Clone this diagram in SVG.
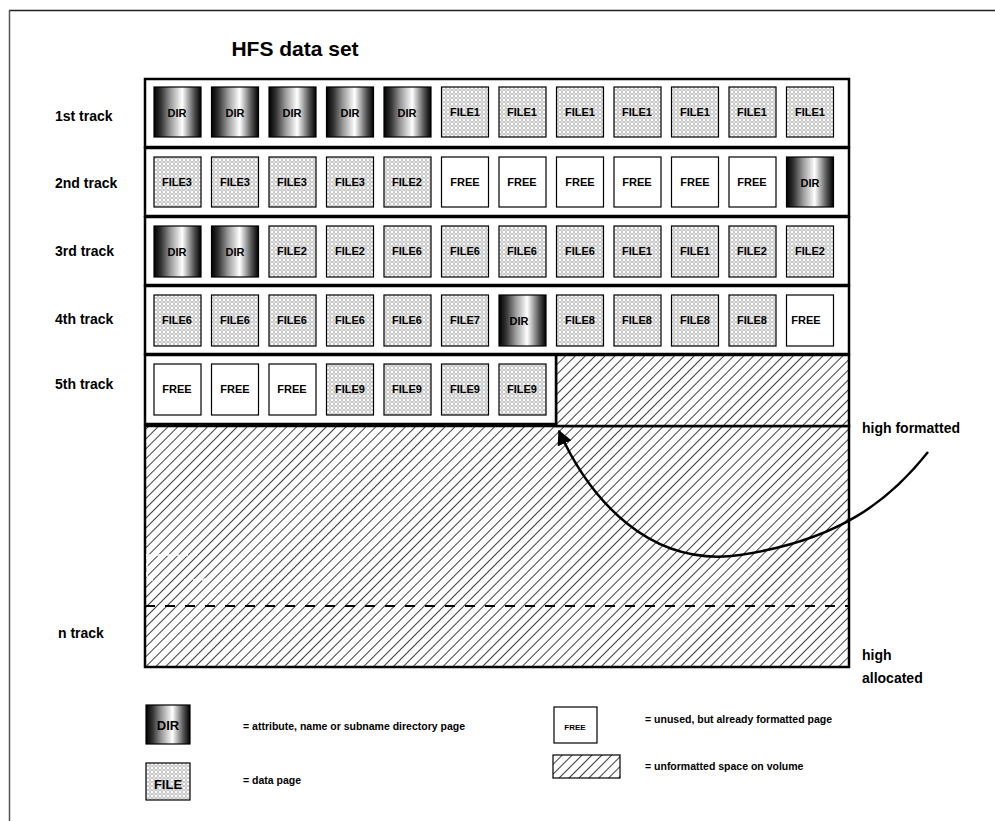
<svg xmlns="http://www.w3.org/2000/svg" width="995" height="821" viewBox="0 0 995 821">
<defs>
<linearGradient id="dirg" x1="0" y1="0" x2="1" y2="0">
<stop offset="0" stop-color="#000"/>
<stop offset="0.15" stop-color="#333"/>
<stop offset="0.35" stop-color="#999"/>
<stop offset="0.6" stop-color="#fff"/>
<stop offset="0.85" stop-color="#555"/>
<stop offset="1" stop-color="#000"/>
</linearGradient>
<pattern id="dots" width="4" height="4" patternUnits="userSpaceOnUse">
<rect width="4" height="4" fill="#fff"/>
<circle cx="2" cy="2" r="1.4" fill="none" stroke="#999" stroke-width="0.7"/>
</pattern>
<pattern id="hatch" width="7" height="7" patternUnits="userSpaceOnUse" patternTransform="rotate(45)">
<rect width="7" height="7" fill="#fff"/>
<line x1="0" y1="0" x2="0" y2="7" stroke="#000" stroke-width="1.5"/>
</pattern>
<marker id="ah" viewBox="0 0 10 10" refX="9" refY="5" markerWidth="6" markerHeight="6" orient="auto" markerUnits="strokeWidth">
<path d="M0,0 L10,5 L0,10 z" fill="#000"/>
</marker>
</defs>
<style>
text{font-family:"Liberation Sans Narrow","Liberation Sans",Arial,sans-serif;font-weight:bold;fill:#000}
.lbl{font-size:14px}
.c{font-size:11px;text-anchor:middle}
.dir{fill:url(#dirg);stroke:#000;stroke-width:1.2}
.file{fill:url(#dots);stroke:#000;stroke-width:1.2}
.free{fill:#fff;stroke:#000;stroke-width:1.2}
.row{fill:#fff;stroke:#000;stroke-width:2.5}
.hat{fill:url(#hatch);stroke:#000;stroke-width:2.5}
.leg{font-size:10.5px}
</style>
<rect width="995" height="821" fill="#fff"/>
<g id="frame">
<line x1="9" y1="10.5" x2="995" y2="10.5" stroke="#222" stroke-width="1.5"/>
<line x1="9.5" y1="10" x2="9.5" y2="821" stroke="#555" stroke-width="1.5"/>
</g>
<text x="295" y="56" style="font-size:21px" text-anchor="middle" id="title">HFS data set</text>
<g id="labels">
<text class="lbl" x="55" y="121">1st track</text>
<text class="lbl" x="55" y="188">2nd track</text>
<text class="lbl" x="55" y="256">3rd track</text>
<text class="lbl" x="55" y="324">4th track</text>
<text class="lbl" x="55" y="389">5th track</text>
<text class="lbl" x="58" y="638">n track</text>
</g>
<g id="unformatted">
<rect class="hat" x="145" y="426" width="704" height="241"/>
<rect class="hat" x="556" y="355" width="293" height="71"/>
<line x1="145" y1="606" x2="849" y2="606" stroke="#000" stroke-width="2" stroke-dasharray="10,10"/>
<rect x="147" y="555" width="58" height="25" fill="none" stroke="#fff" stroke-width="1.5" stroke-dasharray="5,4"/>
</g>
<g id="track1">
<rect class="row" x="145" y="79" width="704" height="68"/>
<rect class="dir" x="154" y="87" width="47" height="50"/><text class="c" x="177" y="117">DIR</text>
<rect class="dir" x="211.5" y="87" width="47" height="50"/><text class="c" x="235" y="117">DIR</text>
<rect class="dir" x="269" y="87" width="47" height="50"/><text class="c" x="292" y="117">DIR</text>
<rect class="dir" x="326.5" y="87" width="47" height="50"/><text class="c" x="350" y="117">DIR</text>
<rect class="dir" x="384" y="87" width="47" height="50"/><text class="c" x="407" y="117">DIR</text>
<rect class="file" x="441.5" y="87" width="47" height="50"/><text class="c" x="465" y="116">FILE1</text>
<rect class="file" x="499" y="87" width="47" height="50"/><text class="c" x="522" y="116">FILE1</text>
<rect class="file" x="556.5" y="87" width="47" height="50"/><text class="c" x="580" y="116">FILE1</text>
<rect class="file" x="614" y="87" width="47" height="50"/><text class="c" x="637" y="116">FILE1</text>
<rect class="file" x="671.5" y="87" width="47" height="50"/><text class="c" x="695" y="116">FILE1</text>
<rect class="file" x="729" y="87" width="47" height="50"/><text class="c" x="752" y="116">FILE1</text>
<rect class="file" x="786.5" y="87" width="47" height="50"/><text class="c" x="810" y="116">FILE1</text>
</g>
<g id="track2">
<rect class="row" x="145" y="148" width="704" height="68"/>
<rect class="file" x="154" y="157" width="47" height="50"/><text class="c" x="177" y="186">FILE3</text>
<rect class="file" x="211.5" y="157" width="47" height="50"/><text class="c" x="235" y="186">FILE3</text>
<rect class="file" x="269" y="157" width="47" height="50"/><text class="c" x="292" y="186">FILE3</text>
<rect class="file" x="326.5" y="157" width="47" height="50"/><text class="c" x="350" y="186">FILE3</text>
<rect class="file" x="384" y="157" width="47" height="50"/><text class="c" x="407" y="186">FILE2</text>
<rect class="free" x="441.5" y="157" width="47" height="50"/><text class="c" x="465" y="186">FREE</text>
<rect class="free" x="499" y="157" width="47" height="50"/><text class="c" x="522" y="186">FREE</text>
<rect class="free" x="556.5" y="157" width="47" height="50"/><text class="c" x="580" y="186">FREE</text>
<rect class="free" x="614" y="157" width="47" height="50"/><text class="c" x="637" y="186">FREE</text>
<rect class="free" x="671.5" y="157" width="47" height="50"/><text class="c" x="695" y="186">FREE</text>
<rect class="free" x="729" y="157" width="47" height="50"/><text class="c" x="752" y="186">FREE</text>
<rect class="dir" x="786.5" y="157" width="47" height="50"/><text class="c" x="810" y="187">DIR</text>
</g>
<g id="track3">
<rect class="row" x="145" y="217" width="704" height="68"/>
<rect class="dir" x="154" y="226" width="47" height="51"/><text class="c" x="177" y="256">DIR</text>
<rect class="dir" x="211.5" y="226" width="47" height="51"/><text class="c" x="235" y="256">DIR</text>
<rect class="file" x="269" y="226" width="47" height="51"/><text class="c" x="292" y="255">FILE2</text>
<rect class="file" x="326.5" y="226" width="47" height="51"/><text class="c" x="350" y="255">FILE2</text>
<rect class="file" x="384" y="226" width="47" height="51"/><text class="c" x="407" y="255">FILE6</text>
<rect class="file" x="441.5" y="226" width="47" height="51"/><text class="c" x="465" y="255">FILE6</text>
<rect class="file" x="499" y="226" width="47" height="51"/><text class="c" x="522" y="255">FILE6</text>
<rect class="file" x="556.5" y="226" width="47" height="51"/><text class="c" x="580" y="255">FILE6</text>
<rect class="file" x="614" y="226" width="47" height="51"/><text class="c" x="637" y="255">FILE1</text>
<rect class="file" x="671.5" y="226" width="47" height="51"/><text class="c" x="695" y="255">FILE1</text>
<rect class="file" x="729" y="226" width="47" height="51"/><text class="c" x="752" y="255">FILE2</text>
<rect class="file" x="786.5" y="226" width="47" height="51"/><text class="c" x="810" y="255">FILE2</text>
</g>
<g id="track4">
<rect class="row" x="145" y="286" width="704" height="68"/>
<rect class="file" x="154" y="295" width="47" height="51"/><text class="c" x="177" y="324">FILE6</text>
<rect class="file" x="211.5" y="295" width="47" height="51"/><text class="c" x="235" y="324">FILE6</text>
<rect class="file" x="269" y="295" width="47" height="51"/><text class="c" x="292" y="324">FILE6</text>
<rect class="file" x="326.5" y="295" width="47" height="51"/><text class="c" x="350" y="324">FILE6</text>
<rect class="file" x="384" y="295" width="47" height="51"/><text class="c" x="407" y="324">FILE6</text>
<rect class="file" x="441.5" y="295" width="47" height="51"/><text class="c" x="465" y="324">FILE7</text>
<rect class="dir" x="499" y="295" width="47" height="51"/><text class="c" x="519" y="325">DIR</text>
<rect class="file" x="556.5" y="295" width="47" height="51"/><text class="c" x="580" y="324">FILE8</text>
<rect class="file" x="614" y="295" width="47" height="51"/><text class="c" x="637" y="324">FILE8</text>
<rect class="file" x="671.5" y="295" width="47" height="51"/><text class="c" x="695" y="324">FILE8</text>
<rect class="file" x="729" y="295" width="47" height="51"/><text class="c" x="752" y="324">FILE8</text>
<rect class="free" x="786.5" y="295" width="47" height="51"/><text class="c" x="806" y="324">FREE</text>
</g>
<g id="track5">
<rect class="row" x="145" y="355" width="411" height="69"/>
<rect class="free" x="154" y="364" width="47" height="51"/><text class="c" x="177" y="393">FREE</text>
<rect class="free" x="211.5" y="364" width="47" height="51"/><text class="c" x="235" y="393">FREE</text>
<rect class="free" x="269" y="364" width="47" height="51"/><text class="c" x="292" y="393">FREE</text>
<rect class="file" x="326.5" y="364" width="47" height="51"/><text class="c" x="350" y="393">FILE9</text>
<rect class="file" x="384" y="364" width="47" height="51"/><text class="c" x="407" y="393">FILE9</text>
<rect class="file" x="441.5" y="364" width="47" height="51"/><text class="c" x="465" y="393">FILE9</text>
<rect class="file" x="499" y="364" width="47" height="51"/><text class="c" x="522" y="393">FILE9</text>
</g>
<g id="connectors">
<path d="M928,452 C890,500 840,540 740,555 C650,568 590,500 559,431" fill="none" stroke="#000" stroke-width="2.5" marker-end="url(#ah)"/>
</g>
<g id="side-labels">
<text class="lbl" x="862" y="433">high formatted</text>
<text class="lbl" x="862" y="660">high</text>
<text class="lbl" x="862" y="683">allocated</text>
</g>
<g id="legend">
<rect class="dir" x="146" y="705" width="44" height="39"/><text x="168" y="730" style="font-size:13px" text-anchor="middle">DIR</text>
<text class="leg" x="243" y="730">= attribute, name or subname directory page</text>
<rect class="file" x="146" y="763" width="44" height="37"/><text x="168" y="789" style="font-size:13px" text-anchor="middle">FILE</text>
<text class="leg" x="243" y="784">= data page</text>
<rect class="free" x="554" y="707" width="43" height="36"/><text x="575" y="730" style="font-size:8px" text-anchor="middle">FREE</text>
<text class="leg" x="645" y="723">= unused, but already formatted page</text>
<rect x="553" y="755" width="67" height="23" fill="url(#hatch)" stroke="#000" stroke-width="1.2"/>
<text class="leg" x="645" y="770">= unformatted space on volume</text>
</g>
</svg>
